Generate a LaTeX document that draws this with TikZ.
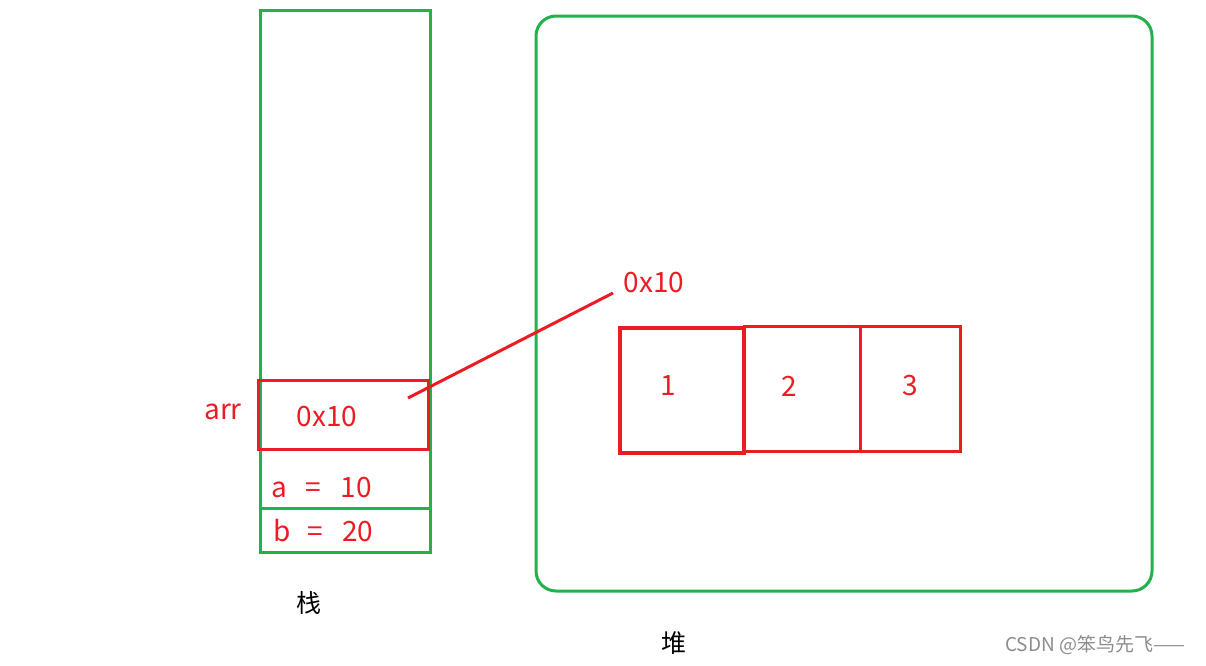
\documentclass[tikz,border=0pt]{standalone}
\usepackage{fontspec}
\setmainfont{Noto Sans CJK SC}
\definecolor{paintgreen}{RGB}{34,177,76}
\definecolor{paintred}{RGB}{237,28,36}
\begin{document}
\begin{tikzpicture}[x=1pt,y=-1pt]
	\def \cellrow{388.5}
	\def \valrow{386}
	\def \stackmid{345}
	\tikzstyle{g-box}=[draw=paintgreen,line width=3pt,inner sep=0pt]
	\tikzstyle{r-box}=[draw=paintred,line width=3pt,inner sep=0pt]
	\tikzstyle{r-text}=[text=paintred,font=\fontsize{28}{31}\selectfont,inner sep=1pt]
	\tikzstyle{k-text}=[text=black,font=\fontsize{25}{28}\selectfont,inner sep=1pt]
	\useasboundingbox (0,0) rectangle (1206,665);
	% stack
	\node[g-box,minimum width=170pt,minimum height=542pt] (stack) at (\stackmid,281) {};
	\draw[paintgreen,line width=3pt] (260,508) -- (430,508);
	\node[r-box,minimum width=170pt,minimum height=69pt] (arrcell) at (343,414.5) {};
	\node[r-text] (arr) at (223,412) {arr};
	\node[r-text] (arrval) at (327,417) {0x10};
	\node[r-text,anchor=west] (aval) at (270,488) {a\hspace{19pt}=\hspace{19pt}10};
	\node[r-text,anchor=west] (bval) at (272,531) {b\hspace{17pt}=\hspace{19pt}20};
	\node[k-text] (stacklbl) at (309,603) {栈};
	% heap
	\node[g-box,rounded corners=20pt,minimum width=616pt,minimum height=575pt] (heap) at (844,303.5) {};
	\node[k-text] (heaplbl) at (674,643) {堆};
	% array cells
	\node[r-box,line width=4pt,minimum width=124pt,minimum height=125pt] (c1) at (682,390.5) {};
	\node[r-box,minimum width=116pt,minimum height=125pt] (c2) at (802,\cellrow) {};
	\node[r-box,minimum width=100pt,minimum height=125pt] (c3) at (910,\cellrow) {};
	\node[r-text] (v1) at (668,\valrow) {1};
	\node[r-text] (v2) at (789,\valrow) {2};
	\node[r-text] (v3) at (910,\valrow) {3};
	% pointer
	\node[r-text] (addr) at (654,283) {0x10};
	\coordinate (ptrfrom) at (408,398);
	\coordinate (ptrto) at (613,293);
	\draw[paintred,line width=3pt] (ptrfrom) -- (ptrto);
	% watermark
	\node[text=black!45,font=\fontsize{19}{22}\selectfont,inner sep=0pt] (mark) at (1095,645) {CSDN @笨鸟先飞——};
\end{tikzpicture}
\end{document}
